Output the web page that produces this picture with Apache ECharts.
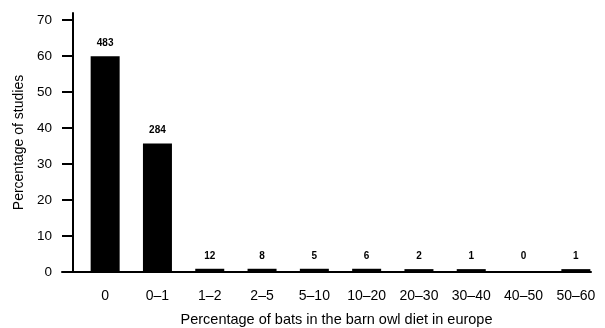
<!DOCTYPE html>
<html><head><meta charset="utf-8">
<script src="https://cdn.jsdelivr.net/npm/echarts@6/dist/echarts.min.js"></script>
<style>html,body{margin:0;padding:0;background:#fff}#c{width:605px;height:328px}</style>
</head><body><div id="c"></div>
<script>
const categories = ['0','0–1','1–2','2–5','5–10','10–20','20–30','30–40','40–50','50–60'];
const percentages = [60, 35.7, 0.9, 0.9, 0.9, 0.9, 0.8, 0.8, 0, 0.8];
const counts = [483, 284, 12, 8, 5, 6, 2, 1, 0, 1];
const yTicks = [0, 10, 20, 30, 40, 50, 60, 70];
const FONT = 'Liberation Sans, Arial, sans-serif';
const chart = echarts.init(document.getElementById('c'), null, {renderer:'canvas'});
chart.setOption({
  animation: false,
  backgroundColor: '#fff',
  grid: [
    {left: 79, right: 3, top: 13, bottom: 56, outerBoundsMode: 'none', containLabel: false},
    {left: 62, right: 14, top: 13, bottom: 56, outerBoundsMode: 'none', containLabel: false}
  ],
  xAxis: [
    {type: 'category', gridIndex: 0, data: categories,
     axisLine: {show: false}, axisTick: {show: false},
     axisLabel: {color: '#000', fontSize: 14, fontFamily: FONT, margin: 17},
     name: 'Percentage of bats in the barn owl diet in europe', nameLocation: 'middle', nameGap: 40,
     nameTextStyle: {color: '#000', fontSize: 14.5, fontFamily: FONT, padding: [0, 8, 0, 0]}},
    {type: 'value', gridIndex: 1, min: 0, max: 1,
     axisLine: {show: true, lineStyle: {color: '#000', width: 2}},
     axisTick: {show: false}, axisLabel: {show: false}, splitLine: {show: false}}
  ],
  yAxis: [
    {type: 'value', gridIndex: 0, min: 0, max: 72, offset: 6,
     axisLine: {show: true, lineStyle: {color: '#000', width: 2}},
     axisTick: {show: true, length: 11, lineStyle: {color: '#000', width: 2}, customValues: yTicks},
     axisLabel: {color: '#000', fontSize: 13.5, fontFamily: FONT, margin: 21, customValues: yTicks},
     splitLine: {show: false},
     name: 'Percentage of studies', nameLocation: 'middle', nameGap: 46,
     nameTextStyle: {color: '#000', fontSize: 14, fontFamily: FONT}},
    {type: 'value', gridIndex: 1, show: false}
  ],
  series: [{
    type: 'bar', xAxisIndex: 0, yAxisIndex: 0,
    data: percentages, barWidth: 29,
    itemStyle: {color: '#000'},
    label: {show: true, position: 'top', distance: 8, color: '#000', fontSize: 10, fontWeight: 'bold', fontFamily: FONT,
      formatter: p => String(counts[p.dataIndex])},
    labelLayout: p => (percentages[p.dataIndex] === 0 ? {dy: -3} : {})
  }]
});
</script></body></html>
